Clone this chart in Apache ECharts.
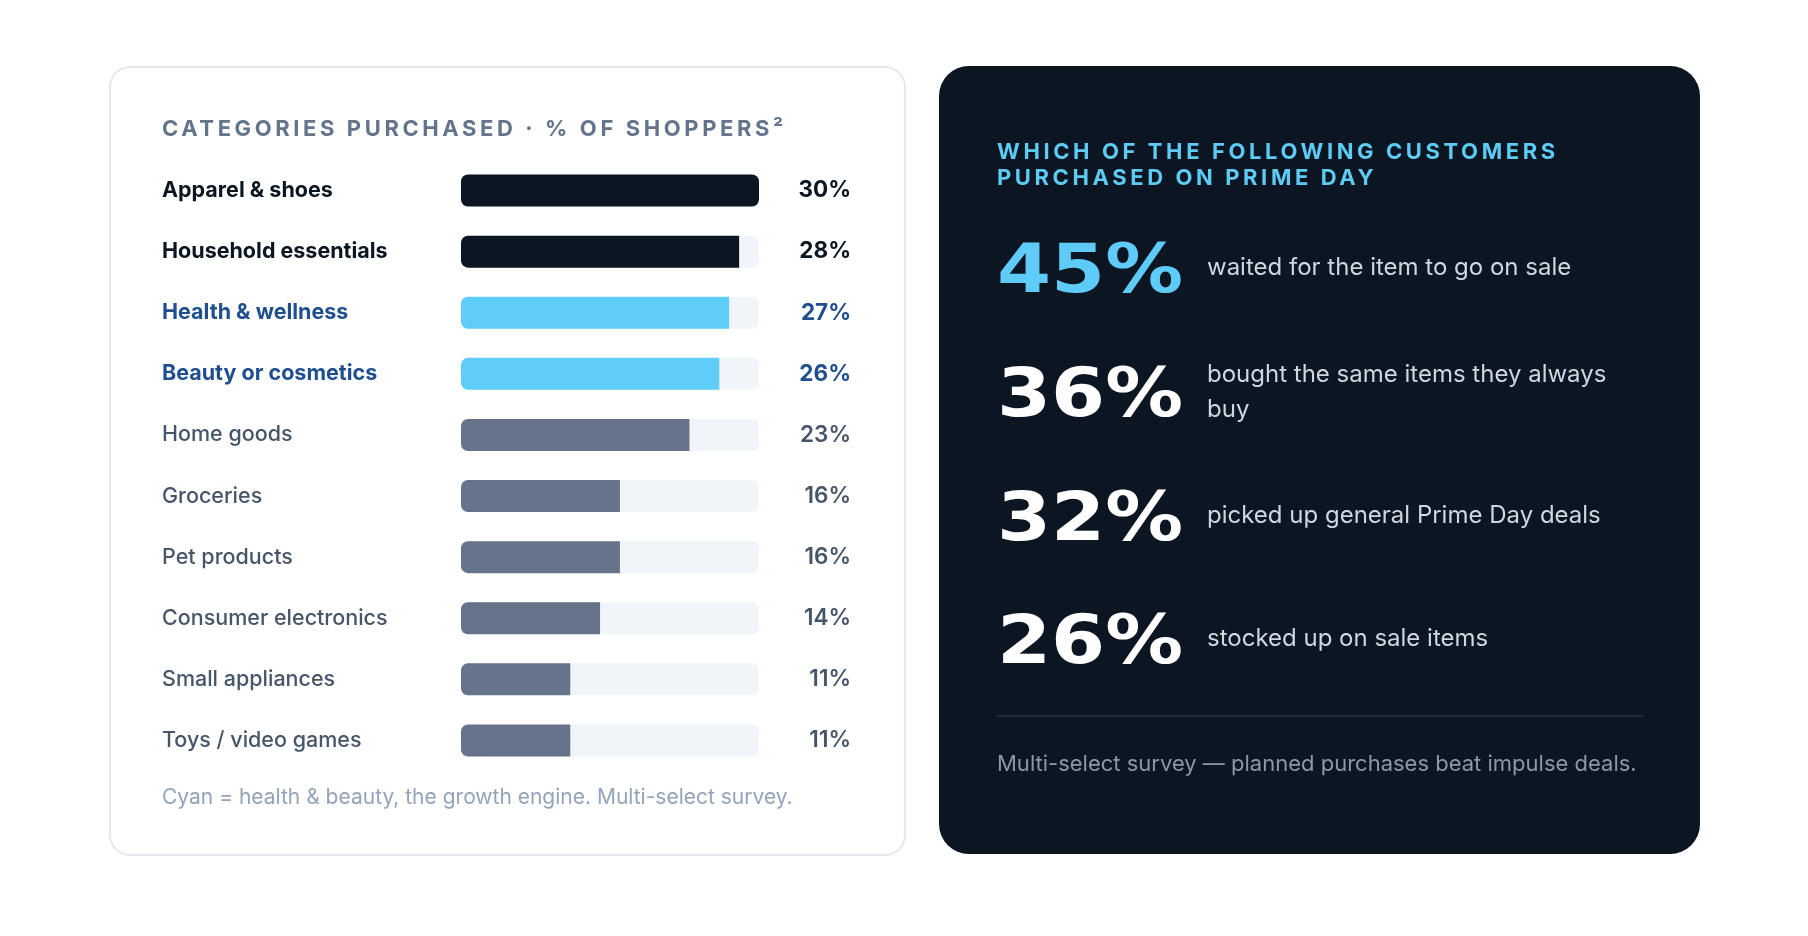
<!DOCTYPE html>
<html>
<head>
<meta charset="utf-8">
<script src="https://cdn.jsdelivr.net/npm/echarts@6/dist/echarts.min.js"></script>
<style>
  html, body { margin: 0; padding: 0; background: #ffffff; }
  #chart { width: 1808px; height: 936px; }
</style>
</head>
<body>
<div id="chart"></div>
<script>
// ---------- data ----------
const categories = ['Apparel & shoes', 'Household essentials', 'Health & wellness', 'Beauty or cosmetics', 'Home goods', 'Groceries', 'Pet products', 'Consumer electronics', 'Small appliances', 'Toys / video games'];
const shares = [30, 28, 27, 26, 23, 16, 16, 14, 11, 11];
const groups = ['top', 'top', 'health', 'health', 'other', 'other', 'other', 'other', 'other', 'other'];
const leftTitle = 'CATEGORIES PURCHASED · % OF SHOPPERS²';
const leftNote = 'Cyan = health & beauty, the growth engine. Multi-select survey.';
const rightTitle = 'WHICH OF THE FOLLOWING CUSTOMERS\nPURCHASED ON PRIME DAY';
const statValues = [45, 36, 32, 26];
const statTexts = ['waited for the item to go on sale', 'bought the same items they always buy', 'picked up general Prime Day deals', 'stocked up on sale items'];
const rightNote = 'Multi-select survey — planned purchases beat impulse deals.';

// ---------- letter-spacing for tracked headings only ----------
(function () {
  const P = CanvasRenderingContext2D.prototype;
  const orig = P.fillText;
  P.fillText = function (t, x, y, m) {
    if ('letterSpacing' in this) {
      this.letterSpacing = (this.font && this.font.indexOf('Lato') >= 0) ? '3.6px' : '0px';
    }
    return m === undefined ? orig.call(this, t, x, y) : orig.call(this, t, x, y, m);
  };
})();

// ---------- styles ----------
const groupColor = { top: '#0b1622', health: '#5fcdf9', other: '#66738a' };
const labelRich = {
  top: { color: '#0b1622', fontWeight: 700, fontSize: 21.5, fontFamily: 'Inter' },
  health: { color: '#1f4f8e', fontWeight: 700, fontSize: 21.5, fontFamily: 'Inter' },
  other: { color: '#475569', fontWeight: 500, fontSize: 21.5, fontFamily: 'Inter' }
};
const valueRich = {
  top: { color: '#0b1622', fontWeight: 700, fontSize: 22.5, fontFamily: 'Inter' },
  health: { color: '#1f4f8e', fontWeight: 700, fontSize: 22.5, fontFamily: 'Inter' },
  other: { color: '#475569', fontWeight: 600, fontSize: 22.5, fontFamily: 'Inter' }
};
const maxShare = 30;

const chart = echarts.init(document.getElementById('chart'));

const graphics = [
  { type: 'rect', z: -10, shape: { x: 110, y: 67, width: 795, height: 788, r: 20 },
    style: { fill: '#ffffff', stroke: '#e3e8ef', lineWidth: 2 } },
  { type: 'rect', z: -10, shape: { x: 939, y: 66, width: 761, height: 788, r: 30 },
    style: { fill: '#0b1622' } },
  { type: 'text', x: 162, y: 129,
    style: { text: leftTitle, font: 'bold 22px Inter, Lato', fill: '#64748b', verticalAlign: 'middle' } },
  { type: 'text', x: 162, y: 798,
    style: { text: leftNote, font: '21px Inter', fill: '#94a3b8', verticalAlign: 'middle' } },
  { type: 'text', x: 997, y: 165,
    style: { text: rightTitle, font: 'bold 22px Inter, Lato', fill: '#5ecbf5', verticalAlign: 'middle', lineHeight: 26 } },
  { type: 'line', shape: { x1: 997, y1: 716, x2: 1643, y2: 716 },
    style: { stroke: '#253041', lineWidth: 1.5 } },
  { type: 'text', x: 997, y: 764,
    style: { text: rightNote, font: '22px Inter', fill: '#8d97a7', verticalAlign: 'middle' } }
];
const statY = [267, 391, 515, 638];
statValues.forEach((v, i) => {
  graphics.push({ type: 'text', x: 997, y: statY[i] + 7.5, scaleX: 1.16,
    style: { text: v + '%', font: 'bold 67px "DejaVu Sans"', fill: i === 0 ? '#5ecbf8' : '#ffffff', verticalAlign: 'middle' } });
  graphics.push({ type: 'text', x: 1207, y: statY[i] + 1,
    style: { text: statTexts[i], font: '24px Inter', fill: '#cfd6df', verticalAlign: 'middle', width: 430, overflow: 'break', lineHeight: 35 } });
});

chart.setOption({
  backgroundColor: '#ffffff',
  animation: false,
  graphic: graphics,
  grid: { left: 461, top: 160, width: 298, height: 611, containLabel: false },
  xAxis: { type: 'value', min: 0, max: maxShare, show: false },
  yAxis: [
    { type: 'category', data: categories, inverse: true,
      axisLine: { show: false }, axisTick: { show: false }, splitLine: { show: false },
      axisLabel: { align: 'left', margin: 299, formatter: (v, i) => '{' + groups[i] + '|' + v + '}', rich: labelRich } },
    { type: 'category', position: 'right', data: shares.map(v => v + '%'), inverse: true,
      axisLine: { show: false }, axisTick: { show: false }, splitLine: { show: false },
      axisLabel: { align: 'right', margin: 92, formatter: (v, i) => '{' + groups[i] + '|' + v + '}', rich: valueRich } }
  ],
  series: [{
    type: 'bar', yAxisIndex: 0, barWidth: 32,
    showBackground: true,
    backgroundStyle: { color: '#f1f5f9', borderRadius: 7 },
    data: shares.map((v, i) => ({
      value: v,
      itemStyle: { color: groupColor[groups[i]], borderRadius: v >= maxShare ? 7 : [7, 0, 0, 7] }
    }))
  }]
});
</script>
</body>
</html>
